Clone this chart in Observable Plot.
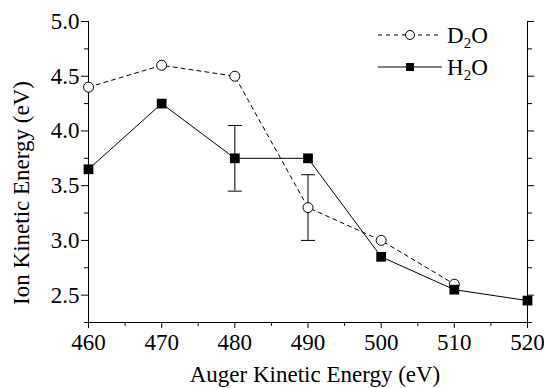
<!DOCTYPE html>
<html><head><meta charset="utf-8">
<script src="https://cdn.jsdelivr.net/npm/d3@7"></script>
<script src="https://cdn.jsdelivr.net/npm/@observablehq/plot@0.6"></script>
<style>body{margin:0;background:#fff}</style>
</head><body><div id="chart"></div>
<script>
const d2oX = [460, 470, 480, 490, 500, 510];
const d2oY = [4.4, 4.6, 4.5, 3.3, 3.0, 2.6];
const h2oX = [460, 470, 480, 490, 500, 510, 520];
const h2oY = [3.65, 4.25, 3.75, 3.75, 2.85, 2.55, 2.45];
const errX = [480, 490];
const errLow = [3.45, 3.0];
const errHigh = [4.05, 3.6];
const xMajor = [460, 470, 480, 490, 500, 510, 520];
const yMajor = [2.5, 3.0, 3.5, 4.0, 4.5, 5.0];

const d2o = d2oX.map((x, i) => ({x, y: d2oY[i]}));
const h2o = h2oX.map((x, i) => ({x, y: h2oY[i]}));
const errs = errX.map((x, i) => ({x, lo: errLow[i], hi: errHigh[i]}));
const xMinor = d3.range(465, 520, 10);
const yMinor = d3.range(2.25, 5.0, 0.5);
const capSym = {draw(ctx, size) { ctx.moveTo(-7, 0); ctx.lineTo(7, 0); }};
const none = () => "";

const font = "'Liberation Serif', 'Times New Roman', serif";
const plot = Plot.plot({
  width: 544, height: 388,
  marginLeft: 88, marginRight: 17, marginTop: 21, marginBottom: 66,
  style: {fontFamily: font, fontSize: "23px", color: "#000", background: "#fff"},
  x: {domain: [460, 520]},
  y: {domain: [2.25, 5.0]},
  marks: [
    Plot.axisX({ticks: xMajor, tickSize: 6, tickPadding: 5, tickFormat: d3.format("d"), label: null}),
    Plot.axisX({ticks: xMinor, tickSize: 4, tickFormat: none, label: null}),
    Plot.axisY({ticks: yMajor, tickSize: 7, tickPadding: 2, tickFormat: d3.format(".1f"), label: null}),
    Plot.axisY({ticks: yMinor, tickSize: 4, tickFormat: none, label: null}),
    Plot.axisY({anchor: "right", ticks: yMajor, tickSize: 6, tickFormat: none, label: null}),
    Plot.axisY({anchor: "right", ticks: yMinor, tickSize: 4, tickFormat: none, label: null}),
    Plot.frame({anchor: "left", stroke: "#000"}),
    Plot.frame({anchor: "bottom", stroke: "#000"}),
    Plot.frame({anchor: "right", stroke: "#000"}),
    Plot.ruleX(errs, {x: "x", y1: "lo", y2: "hi", stroke: "#000", strokeWidth: 1}),
    Plot.dot(errs, {x: "x", y: "lo", symbol: capSym, stroke: "#000", strokeWidth: 1, fill: "none"}),
    Plot.dot(errs, {x: "x", y: "hi", symbol: capSym, stroke: "#000", strokeWidth: 1, fill: "none"}),
    Plot.line(d2o, {x: "x", y: "y", stroke: "#000", strokeWidth: 1, strokeDasharray: "4,4"}),
    Plot.line(h2o, {x: "x", y: "y", stroke: "#000", strokeWidth: 1}),
    Plot.dot(d2o, {x: "x", y: "y", r: 5, fill: "#fff", stroke: "#000", strokeWidth: 1}),
    Plot.dot(h2o, {x: "x", y: "y", symbol: "square", r: 5.5, fill: "#000", stroke: "#000", strokeWidth: 0})
  ]
});
document.getElementById("chart").appendChild(plot);

const svg = d3.select(plot);
svg.selectAll("text").style("font-family", font).style("font-size", "23px");

// axis titles
svg.append("text").attr("x", 315).attr("y", 382).attr("text-anchor", "middle")
  .style("font-family", font).style("font-size", "23px").text("Auger Kinetic Energy (eV)");
svg.append("text").attr("transform", "translate(29,193) rotate(-90)").attr("text-anchor", "middle")
  .style("font-family", font).style("font-size", "23px").text("Ion Kinetic Energy (eV)");

// legend
const legend = [
  {name: "D", sub: "2", rest: "O", dash: "4,4", y: 35, circle: true},
  {name: "H", sub: "2", rest: "O", dash: null, y: 67, circle: false}
];
legend.forEach(l => {
  svg.append("line").attr("x1", 378).attr("x2", 442).attr("y1", l.y).attr("y2", l.y)
    .attr("stroke", "#000").attr("stroke-dasharray", l.dash);
  if (l.circle) svg.append("circle").attr("cx", 410).attr("cy", l.y).attr("r", 4.5).attr("fill", "#fff").attr("stroke", "#000");
  else svg.append("rect").attr("x", 406).attr("y", l.y - 4).attr("width", 8).attr("height", 8).attr("fill", "#000");
  const t = svg.append("text").attr("x", 447).attr("y", l.y + 8).attr("text-anchor", "start")
    .style("font-family", font).style("font-size", "23px");
  t.append("tspan").text(l.name);
  t.append("tspan").style("font-size", "15px").attr("dy", 5).text(l.sub);
  t.append("tspan").attr("dy", -5).text(l.rest);
});
</script></body></html>
